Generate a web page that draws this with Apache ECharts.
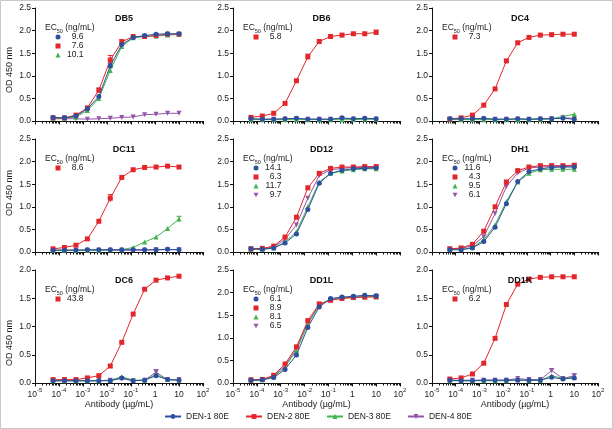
<!DOCTYPE html>
<html><head><meta charset="utf-8">
<script src="https://cdn.jsdelivr.net/npm/echarts@6/dist/echarts.min.js"></script>
<style>html,body{margin:0;padding:0;background:#fff}#c{width:613px;height:429px}</style>
</head><body><div id="c"></div>
<script>
// Antibody concentrations (µg/mL), 3-fold dilution series
const conc = [0.0000565, 0.000169, 0.000508, 0.00152, 0.00457, 0.0137, 0.0412, 0.123, 0.370, 1.11, 3.33, 10];
const majorTicks = [1e-5, 1e-4, 1e-3, 1e-2, 1e-1, 1, 10, 100];
const minorTicks = [2,3,4,5,6,7,8,9].flatMap(k => [1e-5,1e-4,1e-3,1e-2,1e-1,1,10].map(d => k * d));

const panelNames = ['DB5','DB6','DC4','DC11','DD12','DH1','DC6','DD1L','DD1K'];
const yMaxes = [2.5, 2.5, 2.5, 2.5, 2.5, 2.5, 2.0, 2.5, 2.0];
const seriesNames = ['DEN-1 80E','DEN-2 80E','DEN-3 80E','DEN-4 80E'];

// EC50 (ng/mL) per panel, order DEN-1..DEN-4 (null = not listed)
const ec50_DB5  = ['9.6', '7.6', '10.1', null];
const ec50_DB6  = [null, '5.8', null, null];
const ec50_DC4  = [null, '7.3', null, null];
const ec50_DC11 = [null, '8.6', null, null];
const ec50_DD12 = ['14.1', '6.3', '11.7', '9.7'];
const ec50_DH1  = ['11.6', '4.3', '9.5', '6.1'];
const ec50_DC6  = [null, '43.8', null, null];
const ec50_DD1L = ['6.1', '8.9', '8.1', '6.5'];
const ec50_DD1K = [null, '6.2', null, null];

// OD 450 nm values
const DB5_d1 = [0.08,0.07,0.11,0.27,0.54,1.22,1.69,1.85,1.89,1.92,1.93,1.93];
const DB5_d2 = [0.07,0.07,0.13,0.29,0.68,1.35,1.75,1.87,1.87,1.89,1.92,1.92];
const DB5_d3 = [0.06,0.06,0.09,0.23,0.50,1.12,1.65,1.84,1.87,1.88,1.90,1.92];
const DB5_d4 = [0.05,0.05,0.05,0.04,0.05,0.06,0.08,0.09,0.14,0.15,0.17,0.17];

const DB6_d1 = [0.05,0.04,0.04,0.05,0.06,0.04,0.04,0.04,0.07,0.05,0.06,0.05];
const DB6_d2 = [0.08,0.11,0.17,0.39,0.89,1.42,1.76,1.87,1.90,1.93,1.93,1.96];
const DB6_d3 = [0.03,0.03,0.03,0.03,0.03,0.03,0.03,0.03,0.03,0.03,0.04,0.04];
const DB6_d4 = [0.04,0.04,0.04,0.04,0.05,0.04,0.04,0.04,0.05,0.04,0.05,0.04];

const DC4_d1 = [0.05,0.05,0.05,0.06,0.04,0.04,0.05,0.04,0.05,0.05,0.06,0.04];
const DC4_d2 = [0.04,0.07,0.13,0.35,0.71,1.33,1.73,1.85,1.90,1.91,1.92,1.92];
const DC4_d3 = [0.03,0.03,0.03,0.03,0.03,0.03,0.03,0.03,0.04,0.05,0.10,0.15];
const DC4_d4 = [0.04,0.04,0.04,0.04,0.04,0.04,0.04,0.04,0.04,0.05,0.07,0.06];

const DC11_d1 = [0.04,0.04,0.04,0.05,0.05,0.05,0.05,0.05,0.05,0.05,0.06,0.05];
const DC11_d2 = [0.07,0.10,0.15,0.29,0.68,1.19,1.65,1.82,1.87,1.88,1.90,1.88];
const DC11_d3 = [0.04,0.04,0.04,0.04,0.04,0.05,0.05,0.10,0.22,0.33,0.52,0.73];
const DC11_d4 = [0.04,0.04,0.04,0.04,0.04,0.04,0.04,0.04,0.04,0.05,0.05,0.05];

const DD12_d1 = [0.07,0.06,0.09,0.20,0.40,0.94,1.52,1.74,1.81,1.84,1.85,1.86];
const DD12_d2 = [0.07,0.08,0.13,0.33,0.77,1.42,1.74,1.85,1.88,1.88,1.89,1.89];
const DD12_d3 = [0.06,0.06,0.09,0.22,0.45,1.00,1.55,1.74,1.79,1.82,1.84,1.84];
const DD12_d4 = [0.06,0.07,0.11,0.28,0.60,1.19,1.69,1.82,1.85,1.87,1.87,1.87];

const DH1_d1 = [0.05,0.05,0.09,0.23,0.55,1.07,1.56,1.78,1.84,1.87,1.88,1.88];
const DH1_d2 = [0.07,0.09,0.17,0.46,1.00,1.55,1.80,1.88,1.91,1.91,1.91,1.92];
const DH1_d3 = [0.05,0.06,0.10,0.27,0.60,1.12,1.55,1.74,1.82,1.83,1.83,1.83];
const DH1_d4 = [0.06,0.08,0.14,0.34,0.85,1.45,1.75,1.86,1.88,1.89,1.89,1.90];

const DC6_d1 = [0.04,0.04,0.04,0.04,0.04,0.04,0.09,0.04,0.05,0.13,0.06,0.05];
const DC6_d2 = [0.06,0.06,0.06,0.09,0.13,0.30,0.72,1.22,1.66,1.82,1.86,1.89];
const DC6_d3 = [0.04,0.04,0.04,0.04,0.04,0.05,0.11,0.05,0.05,0.15,0.06,0.05];
const DC6_d4 = [0.04,0.04,0.04,0.04,0.04,0.05,0.08,0.04,0.05,0.19,0.06,0.06];

const DD1L_d1 = [0.06,0.07,0.12,0.30,0.62,1.23,1.68,1.87,1.90,1.92,1.94,1.93];
const DD1L_d2 = [0.07,0.08,0.17,0.42,0.80,1.38,1.75,1.83,1.87,1.89,1.90,1.91];
const DD1L_d3 = [0.06,0.07,0.14,0.35,0.72,1.30,1.72,1.85,1.88,1.89,1.91,1.90];
const DD1L_d4 = [0.06,0.07,0.15,0.38,0.76,1.33,1.73,1.85,1.88,1.90,1.92,1.92];

const DD1K_d1 = [0.05,0.04,0.04,0.05,0.05,0.05,0.05,0.05,0.05,0.10,0.07,0.09];
const DD1K_d2 = [0.07,0.09,0.16,0.35,0.79,1.39,1.75,1.84,1.87,1.88,1.88,1.88];
const DD1K_d3 = [0.04,0.04,0.04,0.04,0.04,0.04,0.06,0.04,0.05,0.13,0.08,0.10];
const DD1K_d4 = [0.05,0.05,0.05,0.05,0.05,0.05,0.08,0.06,0.06,0.22,0.08,0.13];

// Visible error bars: [panel, series, point, ± OD]
const errorBars = [
  [0,1,4,0.05],[0,1,5,0.10],[0,0,5,0.06],[0,2,5,0.06],[0,1,6,0.05],
  [1,1,4,0.03],[1,1,5,0.06],[1,1,11,0.05],
  [3,1,5,0.08],[3,2,11,0.06],
  [6,3,9,0.05],[6,0,9,0.03],
  [8,3,9,0.03],[8,3,11,0.03]
];

const panelData = [
  [DB5_d1, DB5_d2, DB5_d3, DB5_d4],
  [DB6_d1, DB6_d2, DB6_d3, DB6_d4],
  [DC4_d1, DC4_d2, DC4_d3, DC4_d4],
  [DC11_d1, DC11_d2, DC11_d3, DC11_d4],
  [DD12_d1, DD12_d2, DD12_d3, DD12_d4],
  [DH1_d1, DH1_d2, DH1_d3, DH1_d4],
  [DC6_d1, DC6_d2, DC6_d3, DC6_d4],
  [DD1L_d1, DD1L_d2, DD1L_d3, DD1L_d4],
  [DD1K_d1, DD1K_d2, DD1K_d3, DD1K_d4]
];
const panelEC50 = [ec50_DB5, ec50_DB6, ec50_DC4, ec50_DC11, ec50_DD12, ec50_DH1, ec50_DC6, ec50_DD1L, ec50_DD1K];

// ---- styling ----
const FONT = 'Liberation Sans, Arial, sans-serif';
const colors = ['#2c4f9e', '#e3262b', '#3fb34f', '#9255a8'];
const invTri = 'path://M0,0L10,0L5,9Z';
const symbols = ['circle', 'rect', 'triangle', invTri];
const symbolSizes = [5, 5, 5, 5];
const drawOrder = [3, 2, 1, 0];

const lefts = [35, 233, 432];
const widths = [168, 167, 166];
const tops = [8, 139, 270];
const H = 113;

const grids = [], xAxes = [], yAxes = [], series = [], titles = [], legends = [], graphics = [];

function expLabel(v) {
  const e = Math.round(Math.log10(v));
  if (e === 0) return '{b|1}';
  if (e === 1) return '{b|10}';
  return '{b|10}{s|' + e + '}';
}

panelNames.forEach((name, i) => {
  const r = Math.floor(i / 3), c = i % 3;
  const L = lefts[c], T = tops[r], W = widths[c];
  grids.push({ left: L, top: T, width: W, height: H, containLabel: false });
  const bottomRow = r === 2;
  xAxes.push({
    type: 'log', logBase: 10, gridIndex: i, min: 1e-5, max: 100, position: 'bottom',
    axisLine: { show: true, lineStyle: { color: '#111', width: 1 } },
    axisTick: { show: true, length: 3.5, lineStyle: { color: '#111' }, customValues: majorTicks },
    splitLine: { show: false },
    axisLabel: {
      show: bottomRow, customValues: majorTicks, margin: 4, formatter: expLabel,
      rich: {
        b: { fontSize: 8.5, fontFamily: FONT, color: '#222', lineHeight: 12, verticalAlign: 'bottom' },
        s: { fontSize: 6, fontFamily: FONT, color: '#222', lineHeight: 12, verticalAlign: 'top' }
      }
    },
    name: bottomRow ? 'Antibody (µg/mL)' : '', nameLocation: 'middle', nameGap: 17,
    nameTextStyle: { fontSize: 9, fontFamily: FONT, color: '#222' }
  });
  xAxes.push({
    type: 'log', logBase: 10, gridIndex: i, min: 1e-5, max: 100, position: 'bottom',
    axisLine: { show: false },
    axisTick: { show: true, length: 2.5, lineStyle: { color: '#111' }, customValues: minorTicks },
    axisLabel: { show: false }, splitLine: { show: false }
  });
  yAxes.push({
    type: 'value', gridIndex: i, min: 0, max: yMaxes[i], interval: 0.5,
    axisLine: { show: true, lineStyle: { color: '#111', width: 1 } },
    axisTick: { show: true, length: 3, lineStyle: { color: '#111' } },
    splitLine: { show: false },
    axisLabel: { fontSize: 8.5, fontFamily: FONT, color: '#222', margin: 4, formatter: v => v.toFixed(1) }
  });
  drawOrder.forEach(s => {
    series.push({
      type: 'line', name: seriesNames[s], xAxisIndex: 2 * i, yAxisIndex: i,
      data: conc.map((x, k) => [x, panelData[i][s][k]]),
      symbol: symbols[s], symbolSize: symbolSizes[s],
      lineStyle: { color: colors[s], width: 1 },
      itemStyle: { color: colors[s] },
      emphasis: { disabled: true }, animation: false, z: 2 + (3 - s)
    });
  });
  // error bars for this panel
  const eb = errorBars.filter(e => e[0] === i).map(e => [conc[e[2]], panelData[i][e[1]][e[2]], e[3], e[1]]);
  if (eb.length) {
    series.push({
      type: 'custom', xAxisIndex: 2 * i, yAxisIndex: i, silent: true, z: 1,
      data: eb,
      renderItem: (params, api) => {
        const x = api.value(0), y = api.value(1), e = api.value(2), s = api.value(3);
        const top = api.coord([x, y + e]), bot = api.coord([x, y - e]);
        const col = colors[s];
        return { type: 'group', children: [
          { type: 'line', shape: { x1: top[0], y1: top[1], x2: bot[0], y2: bot[1] }, style: { stroke: col, lineWidth: 1 } },
          { type: 'line', shape: { x1: top[0] - 2.5, y1: top[1], x2: top[0] + 2.5, y2: top[1] }, style: { stroke: col, lineWidth: 1 } }
        ]};
      }
    });
  }
  titles.push({
    text: name, left: L + W / 2, top: T + 1, textAlign: 'center',
    textStyle: { fontSize: 9, fontWeight: 'bold', fontFamily: FONT, color: '#111' }
  });
  graphics.push({
    type: 'text', left: L + 10, top: T + 15.5,
    style: {
      text: '{a|EC}{s|50}{a| (ng/mL)}', fill: '#222',
      rich: {
        a: { fontSize: 8.5, fontFamily: FONT, fill: '#222', lineHeight: 11, verticalAlign: 'top' },
        s: { fontSize: 5.5, fontFamily: FONT, fill: '#222', lineHeight: 11, verticalAlign: 'bottom' }
      }
    }
  });
  const ec = panelEC50[i];
  const legData = [];
  ec.forEach((v, s) => { if (v !== null) legData.push({ name: seriesNames[s], icon: symbols[s] }); });
  legends.push({
    orient: 'vertical', left: L + 20.5, top: T + 24.5, padding: 0, itemWidth: 5, itemHeight: 5, itemGap: 0,
    selectedMode: false, data: legData,
    formatter: n => '{v|' + ec[seriesNames.indexOf(n)] + '}',
    textStyle: {
      fontSize: 8.5, fontFamily: FONT, color: '#222', lineHeight: 9, padding: [0, 0, 0, 0],
      rich: { v: { width: 18, align: 'right', fontSize: 8.5, fontFamily: FONT, color: '#222', lineHeight: 9 } }
    }
  });
});

// y-axis titles (first column)
[70, 193, 343].forEach(y => {
  graphics.push({
    type: 'text', x: 10, y: y, rotation: Math.PI / 2,
    style: { text: 'OD 450 nm', fontSize: 9, fontFamily: FONT, fill: '#222', align: 'center', verticalAlign: 'middle' }
  });
});
// frame
graphics.push({ type: 'rect', shape: { x: 0.5, y: 0.5, width: 612, height: 428 }, style: { fill: 'none', stroke: '#c8c8c8', lineWidth: 1 }, z: -1 });

legends.push({
  orient: 'horizontal', left: 164, top: 412, padding: 0, itemWidth: 16, itemHeight: 6, itemGap: 16,
  selectedMode: false, data: seriesNames,
  textStyle: { fontSize: 8.5, fontFamily: FONT, color: '#222', padding: [0, 0, 0, 0] }
});

const chart = echarts.init(document.getElementById('c'), null, { renderer: 'canvas' });
chart.setOption({
  backgroundColor: '#fff', animation: false,
  title: titles, grid: grids, xAxis: xAxes, yAxis: yAxes, series: series,
  legend: legends, graphic: graphics
});
</script></body></html>
